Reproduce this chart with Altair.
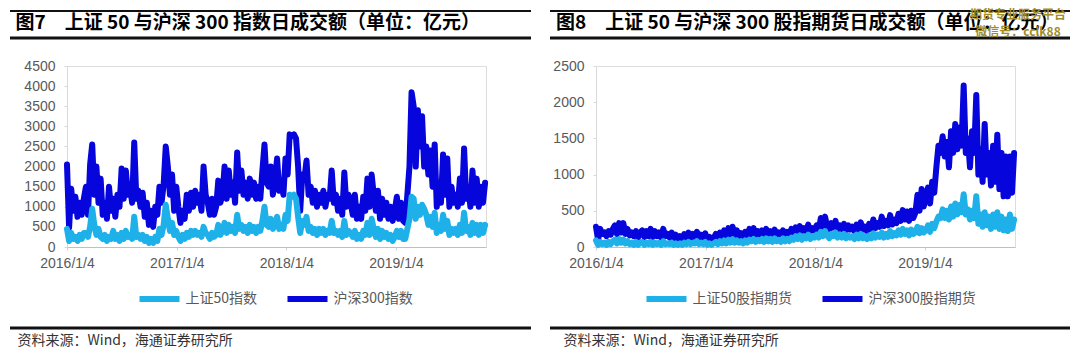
import altair as alt
import pandas as pd

TITLE_L = "图7\u3000上证 50 与沪深 300 指数日成交额（单位：亿元）"
TITLE_R = "图8\u3000上证 50 与沪深 300 股指期货日成交额（单位：亿元）"
SOURCE = "资料来源：Wind，海通证券研究所"
WATERMARK = ["期货专业服务平台", "微信号：cclk88"]
SERIES_L = ["上证50指数", "沪深300指数"]
SERIES_R = ["上证50股指期货", "沪深300股指期货"]
COLORS = ["#1EB0E8", "#0505DC"]
X_TICK_YEARS = [2016, 2017, 2018, 2019]
Y_TICKS_L = [0, 500, 1000, 1500, 2000, 2500, 3000, 3500, 4000, 4500]
Y_TICKS_R = [0, 500, 1000, 1500, 2000, 2500]

# weekly readings (Mondays from 2016/1/4), 亿元
hs300_idx = [
    2050, 480, 1450, 900, 1250, 750, 1100, 800, 1200, 1500, 800, 2050, 2550,
    1300, 2000, 1100, 1700, 800, 1100, 700, 1500, 900, 1200, 750, 1300, 1000,
    1950, 1200, 1900, 1300, 1500, 1100, 2600, 1200, 1400, 1000, 1350, 750, 1100,
    550, 900, 500, 1000, 800, 1500, 1100, 1550, 2500, 2000, 1300, 1800, 900,
    1500, 1000, 600, 900, 700, 1300, 900, 1350, 1000, 1400, 1100, 1300, 900,
    2000, 1300, 1100, 800, 1200, 800, 1000, 1650, 1100, 1300, 2000, 1200, 1900,
    1300, 1600, 1100, 2350, 1400, 1900, 1300, 1600, 1200, 1700, 1300, 1600, 1200,
    1500, 1200, 1900, 2550, 1600, 1500, 2000, 1300, 1700, 2200, 1400, 1600, 1300,
    2200, 1800, 2800, 2750, 2800, 2700, 2000, 900, 1800, 1700, 2150, 1300, 1500,
    1100, 1400, 1000, 1300, 1100, 1400, 1000, 1300, 1200, 1900, 1100, 1300, 900,
    1200, 800, 1850, 1000, 1300, 1100, 800, 1300, 700, 1000, 700, 1250, 900,
    1700, 1000, 1800, 1300, 900, 1400, 700, 1200, 800, 1100, 700, 1000, 650, 900,
    1250, 700, 1100, 650, 600, 1300, 2000, 3850, 3500, 2000, 3400, 2500,
    3250, 2000, 2500, 1800, 2400, 1500, 2550, 1000, 1600, 1100, 2300, 1300, 2200,
    1000, 1500, 1100, 1300, 1000, 1700, 1100, 2450, 1200,
    1500, 1000, 1900, 1100, 1700, 1000, 1500, 1100, 1600,
]
sz50_idx = [
    450, 150, 350, 200, 250, 150, 300, 200, 350, 350, 250, 500, 950,
    550, 300, 450, 250, 200, 300, 150, 250, 200, 400, 200, 300, 150,
    350, 200, 400, 250, 300, 200, 750, 250, 300, 200, 300, 150, 250,
    100, 200, 100, 250, 150, 450, 300, 550, 1050, 700, 400, 600, 300,
    400, 250, 150, 300, 200, 350, 250, 400, 300, 400, 300, 350, 250,
    500, 350, 300, 200, 350, 250, 300, 550, 300, 400, 600, 350, 550,
    400, 500, 350, 800, 450, 550, 400, 500, 350, 550, 400, 500, 350,
    500, 400, 650, 1000, 550, 500, 700, 450, 600, 750, 450, 550, 450,
    800, 650, 1300, 1250, 1300, 1200, 750, 350, 650, 550, 750, 400, 500,
    350, 450, 300, 450, 350, 450, 300, 400, 350, 650, 350, 400, 300,
    400, 250, 650, 300, 400, 350, 250, 400, 200, 300, 200, 400, 300,
    600, 300, 700, 450, 250, 450, 200, 400, 250, 350, 200, 300, 150, 250,
    400, 250, 400, 200, 200, 450, 700, 1250, 1200, 700, 1000, 800,
    1050, 950, 800, 550, 750, 500, 850, 350, 550, 400, 800, 450, 650,
    300, 450, 350, 450, 300, 550, 350, 850, 400,
    500, 300, 600, 350, 550, 300, 550, 350, 550,
]
hs300_fut = [
    280, 100, 250, 180, 200, 150, 220, 170, 250, 300, 180, 330, 200,
    330, 180, 250, 160, 200, 150, 220, 130, 200, 230, 140, 220, 150,
    250, 140, 220, 150, 200, 130, 250, 150, 180, 130, 200, 100, 170,
    90, 150, 100, 180, 120, 200, 120, 180, 140, 210, 100, 170, 120,
    190, 90, 140, 80, 120, 180, 110, 200, 130, 230, 140, 260, 150,
    280, 160, 230, 150, 190, 130, 210, 140, 250, 180, 260, 150, 220,
    170, 230, 150, 250, 170, 220, 150, 240, 160, 200, 140, 230, 160,
    210, 150, 250, 180, 270, 200, 290, 190, 260, 220, 310, 200, 260,
    230, 300, 220, 400, 260, 420, 280, 220, 330, 270, 360, 240, 300,
    250, 320, 230, 300, 240, 280, 220, 310, 230, 340, 240, 280, 220,
    320, 250, 380, 260, 330, 280, 420, 290, 360, 300, 440, 310, 380,
    330, 460, 360, 510, 380, 490, 360, 500, 400, 470, 720, 500, 800, 560,
    700, 820, 600, 900, 750, 1100, 1400, 1300, 1530, 1250, 1450, 1100,
    1600, 1300, 1700, 1350, 1650, 1400, 2230, 1300, 1500, 1100, 1600, 1300, 2100,
    1000, 1350, 900, 1700, 1000, 1300, 850, 1400, 900,
    1550, 800, 1300, 700, 1250, 700, 1250, 750, 1300,
]
sz50_fut = [
    90, 30, 70, 40, 60, 30, 70, 40, 80, 100, 50, 110, 60,
    100, 50, 80, 40, 60, 30, 70, 30, 60, 70, 30, 60, 40,
    70, 30, 60, 40, 60, 30, 80, 40, 50, 40, 60, 30, 50,
    30, 50, 30, 60, 40, 70, 40, 60, 50, 80, 40, 60, 40,
    70, 30, 50, 30, 50, 70, 40, 80, 50, 90, 50, 100, 60,
    110, 60, 90, 60, 80, 50, 90, 60, 100, 80, 110, 70, 100,
    80, 110, 70, 120, 80, 110, 70, 120, 80, 100, 70, 120, 80,
    110, 80, 130, 100, 150, 110, 160, 100, 150, 120, 170, 110, 150,
    130, 170, 130, 210, 150, 220, 160, 120, 180, 150, 200, 130, 170,
    130, 180, 120, 160, 130, 150, 110, 170, 120, 180, 120, 150, 110,
    160, 120, 190, 130, 170, 140, 200, 130, 180, 140, 220, 150, 190,
    160, 230, 170, 250, 180, 230, 160, 240, 180, 200, 280, 190, 260, 200,
    230, 300, 210, 320, 260, 350, 420, 400, 520, 400, 500, 380,
    560, 420, 600, 450, 580, 480, 730, 450, 520, 380, 500, 400, 700,
    320, 450, 280, 480, 300, 420, 250, 450, 280,
    480, 250, 420, 230, 380, 220, 450, 250, 380,
]

dates = list(pd.date_range("2016-01-04", periods=len(hs300_idx), freq="7D").strftime("%Y/%m/%d"))

FONT_CJK = "Noto Sans CJK SC"
FONT_NUM = "Liberation Sans"
GRAY = "#595959"
W, H = 419, 181


def make_df(names, a, b):
    return pd.DataFrame({
        "date": dates + dates,
        "value": a + b,
        "series": [names[0]] * len(a) + [names[1]] * len(b),
    })


def panel(df, names, ymax, yticks, title, legend_x, left_x, right_x, src_x, title_x, extra=None):
    x_enc = alt.X(
        "date:T",
        title=None,
        scale=alt.Scale(domain=[alt.DateTime(year=2016, month=1, date=4),
                                alt.DateTime(year=2019, month=10, date=31)]),
        axis=alt.Axis(values=[alt.DateTime(year=y, month=1, date=4) for y in X_TICK_YEARS],
                      format="%Y/%-m/%-d", labelFontSize=14, labelFont=FONT_NUM,
                      labelColor=GRAY, domainColor="#bfbfbf", tickColor="#d0d0d0",
                      tickSize=3, labelPadding=6, grid=False, labelFlush=False,
                      labelOverlap=False),
    )
    y_enc = alt.Y(
        "value:Q", title=None,
        scale=alt.Scale(domain=[0, ymax], nice=False),
        axis=alt.Axis(values=yticks, format="d", labelFontSize=14, labelFont=FONT_NUM,
                      labelColor=GRAY, domainColor="#d9d9d9", tickColor="#d9d9d9",
                      tickSize=3, labelPadding=9, grid=False),
    )
    c_enc = alt.Color(
        "series:N",
        scale=alt.Scale(domain=names, range=COLORS),
        legend=alt.Legend(title=None, orient="none", legendX=legend_x, legendY=210,
                          direction="horizontal", symbolType="stroke", symbolSize=1600,
                          symbolStrokeWidth=6, labelFontSize=14, labelFont=FONT_CJK,
                          labelColor=GRAY, columnPadding=18, labelOffset=3, padding=0),
    )
    base = alt.Chart(df).encode(x=x_enc, y=y_enc, color=c_enc)
    dark = base.transform_filter(alt.datum.series == names[1]).mark_line(
        strokeWidth=6, strokeCap="round", strokeJoin="round")
    light = base.transform_filter(alt.datum.series == names[0]).mark_line(
        strokeWidth=6, strokeCap="round", strokeJoin="round")

    tdf = pd.DataFrame({"t": [title]})
    sdf = pd.DataFrame({"t": [SOURCE]})
    rule_top = alt.Chart(tdf).mark_rule(color="#111111", strokeWidth=2).encode(
        x=alt.value(left_x), x2=alt.value(right_x), y=alt.value(-55))
    rule_mid = alt.Chart(tdf).mark_rule(color="#111111", strokeWidth=3).encode(
        x=alt.value(left_x), x2=alt.value(right_x), y=alt.value(-28))
    rule_bot = alt.Chart(tdf).mark_rule(color="#111111", strokeWidth=3).encode(
        x=alt.value(left_x), x2=alt.value(right_x), y=alt.value(262))
    title_txt = alt.Chart(tdf).mark_text(
        align="left", baseline="middle", fontSize=19, fontWeight="bold", font=FONT_CJK,
        color="#000000").encode(text="t:N", x=alt.value(title_x), y=alt.value(-43))
    src_txt = alt.Chart(sdf).mark_text(
        align="left", baseline="middle", fontSize=14, font=FONT_CJK,
        color="#333333").encode(text="t:N", x=alt.value(src_x), y=alt.value(275))
    layers = [dark, light, rule_top, rule_mid, rule_bot, title_txt, src_txt]
    if extra is not None:
        layers += extra
    return alt.layer(*layers).properties(width=W, height=H)


wm1 = alt.Chart(pd.DataFrame({"t": [WATERMARK[0]]})).mark_text(
    align="center", baseline="middle", fontSize=12, fontWeight="bold", font=FONT_CJK,
    color="#A08C28").encode(text="t:N", x=alt.value(422), y=alt.value(-51))
wm2 = alt.Chart(pd.DataFrame({"t": [WATERMARK[1]]})).mark_text(
    align="center", baseline="middle", fontSize=12, fontWeight="bold", font=FONT_CJK,
    color="#A08C28").encode(text="t:N", x=alt.value(422), y=alt.value(-34))

left = panel(make_df(SERIES_L, sz50_idx, hs300_idx), SERIES_L, 4500, Y_TICKS_L, TITLE_L,
             legend_x=69.5, left_x=-57, right_x=464, src_x=-49.5, title_x=-51.5)
right = panel(make_df(SERIES_R, sz50_fut, hs300_fut), SERIES_R, 2500, Y_TICKS_R, TITLE_R,
              legend_x=47.5, left_x=-46, right_x=474, src_x=-32.5, title_x=-40, extra=[wm1, wm2])

chart = alt.hconcat(left, right, spacing=110, bounds="flush").resolve_scale(
    color="independent").properties(
    padding=0, autosize=alt.AutoSizeParams(type="pad")
).configure_view(stroke=None).configure(background="white")

chart.save("out.html", embed_options={"renderer": "svg", "actions": False})
